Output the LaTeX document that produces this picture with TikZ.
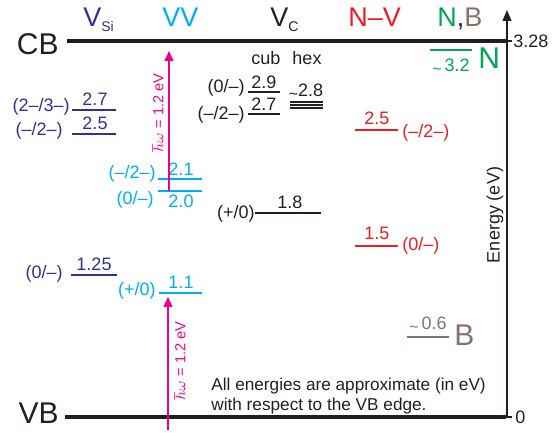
\documentclass[tikz,border=0pt]{standalone}
\usepackage{fontspec}
\setmainfont{Liberation Sans}
\usetikzlibrary{arrows.meta}

\definecolor{ink}{RGB}{35,31,32}
\definecolor{vsi}{RGB}{46,49,146}
\definecolor{vvc}{RGB}{0,174,239}
\definecolor{pk}{RGB}{236,0,140}
\definecolor{nvred}{RGB}{237,28,36}
\definecolor{ngreen}{RGB}{0,166,81}
\definecolor{bbrown}{RGB}{133,114,108}

\newcommand{\tld}{\raisebox{-1.5pt}{\fontsize{8}{8}\selectfont\textasciitilde}}

\begin{document}
\begin{tikzpicture}[
  x=0.5pt, y=0.5pt,
  lev/.style={line width=0.9pt},
  band/.style={draw=ink, line width=1.6pt},
  num/.style={font=\fontsize{9}{10}\selectfont, inner sep=0pt},
  chg/.style={font=\fontsize{9}{10}\selectfont, inner sep=0pt},
  head/.style={font=\fontsize{13.5}{14}\selectfont, inner sep=0pt},
  big/.style={font=\fontsize{15}{16}\selectfont, inner sep=0pt},
  photon/.style={draw=pk, line width=0.7pt, -{Triangle[length=5pt,width=4.5pt]}},
  plab/.style={font=\fontsize{7.3}{8}\selectfont, inner sep=0pt, pk, rotate=90}
]
\useasboundingbox (0,0) rectangle (554,433);

% ---------- pita CB / VB ----------
\draw[band] (67,392) -- (508,392);
\draw[band] (65,16)  -- (506,16);
\node[big, ink, anchor=east] (cb) at (59,389) {CB};
\node[big, ink, anchor=east] (vb) at (59,20)  {VB};

% ---------- sumbu energi ----------
\coordinate (axb) at (507,15);
\coordinate (axt) at (507,423);
\draw[ink, line width=0.6pt, -{Triangle[length=5.5pt,width=4.5pt]}] (axb) -- (axt);
\draw[ink, line width=0.6pt] (507,392) -- (512,392);
\draw[ink, line width=0.6pt] (507,16)  -- (512,16);
\node[num, ink, anchor=west] (e328) at (513,392) {3.28};
\node[num, ink, anchor=west] (e0)   at (515,16)  {0};
\node[num, ink, rotate=90]   (elab) at (495,218) {Energy (eV)};

% ---------- judul kolom ----------
\node[head, vsi, anchor=base west] (hsi) at (83,406)
      {V\raisebox{-2.5pt}{\fontsize{7}{8}\selectfont Si}};
\node[head, vvc, anchor=base west] (hvv) at (162,406) {VV};
\node[head, ink, anchor=base west] (hvc) at (270,406)
      {V\raisebox{-2.5pt}{\fontsize{7}{8}\selectfont C}};
\node[head, nvred, anchor=base west] (hnv) at (348,406) {N--V};
\node[head, anchor=base west] (hnb) at (437,406)
      {\color{ngreen}N\color{ink},\color{bbrown}B};

% ---------- V_Si ----------
\draw[lev, vsi] (72,323) -- (116,323);
\draw[lev, vsi] (72,299) -- (116,299);
\draw[lev, vsi] (71,158) -- (117,158);
\node[num, vsi, anchor=south] (si27)  at (95,327) {2.7};
\node[num, vsi, anchor=south] (si25)  at (95,303) {2.5};
\node[num, vsi, anchor=south] (si125) at (94,162) {1.25};
\node[chg, vsi, anchor=east]  (qsi1)  at (70,326) {(2--/3--)};
\node[chg, vsi, anchor=east]  (qsi2)  at (63,302) {(--/2--)};
\node[chg, vsi, anchor=east]  (qsi3)  at (63,159) {(0/--)};

% ---------- VV ----------
\draw[lev, vvc] (158,254) -- (202,254);
\draw[lev, vvc] (158,242) -- (202,242);
\draw[lev, vvc] (159,140) -- (202,140);
\node[num, vvc, anchor=south] (vv21) at (181,257) {2.1};
\node[num, vvc, anchor=north] (vv20) at (181,238) {2.0};
\node[num, vvc, anchor=south] (vv11) at (181,144) {1.1};
\node[chg, vvc, anchor=east]  (qvv1) at (156,259) {(--/2--)};
\node[chg, vvc, anchor=east]  (qvv2) at (154,233) {(0/--)};
\node[chg, vvc, anchor=east]  (qvv3) at (156,142) {(+/0)};

% ---------- eksitasi optik ----------
\coordinate (pa1) at (169,242);
\coordinate (pb1) at (169,382);
\coordinate (pa2) at (168,3);
\coordinate (pb2) at (168,136);
\draw[photon] (pa1) -- (pb1);
\draw[photon] (pa2) -- (pb2);
\node[plab] (hw1) at (158,320) {$\hbar\omega$ = 1.2 eV};
\node[plab] (hw2) at (180,72)  {$\hbar\omega$ = 1.2 eV};

% ---------- V_C ----------
\node[num, ink] (cub) at (266,375) {cub};
\node[num, ink] (hex) at (307,375) {hex};
\draw[lev, ink] (248,341) -- (280,341);
\draw[lev, ink] (248,319) -- (280,319);
\draw[ink, line width=0.6pt] (290,331) -- (323,331);
\draw[ink, line width=0.6pt] (290,328) -- (323,328);
\draw[ink, line width=0.6pt] (290,325) -- (323,325);
\draw[lev, ink] (255,220) -- (321,220);
\node[num, ink, anchor=south] (vc29) at (264,344) {2.9};
\node[num, ink, anchor=south] (vc27) at (264,322) {2.7};
\node[num, ink, anchor=south] (vc28) at (306,333) {\tld2.8};
\node[num, ink, anchor=south] (vc18) at (290,224) {1.8};
\node[chg, ink, anchor=east]  (qvc1) at (245,345) {(0/--)};
\node[chg, ink, anchor=east]  (qvc2) at (245,318) {(--/2--)};
\node[chg, ink, anchor=east]  (qvc3) at (255,219) {(+/0)};

% ---------- N-V ----------
\draw[lev, nvred] (355,303) -- (398,303);
\draw[lev, nvred] (355,187) -- (398,187);
\node[num, nvred, anchor=south] (nv25) at (377,308) {2.5};
\node[num, nvred, anchor=south] (nv15) at (377,193) {1.5};
\node[chg, nvred, anchor=west]  (qnv1) at (402,300) {(--/2--)};
\node[chg, nvred, anchor=west]  (qnv2) at (402,187) {(0/--)};

% ---------- N dan B ----------
\draw[lev, ngreen] (430,383) -- (472,383);
\node[num, ngreen] (n32) at (451,366) {\tld\,3.2};
\node[big, ngreen, anchor=west] (nlab) at (478,375) {N};
\draw[lev, bbrown] (407,96) -- (449,96);
\node[num, bbrown, anchor=south] (b06) at (428,100) {\tld\,0.6};
\node[big, bbrown, anchor=west] (blab) at (454,98) {B};

% ---------- catatan ----------
\node[anchor=west, align=left, inner sep=0pt, ink,
      font=\fontsize{8.6}{10}\selectfont] (note) at (211,37)
      {All energies are approximate (in eV)\\with respect to the VB edge.};

\end{tikzpicture}
\end{document}
